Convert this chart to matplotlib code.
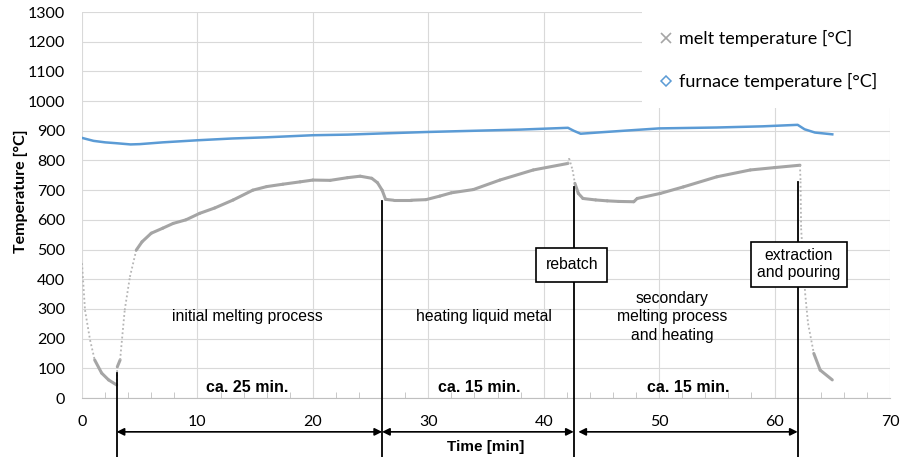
import matplotlib
matplotlib.use("Agg")
import matplotlib.pyplot as plt
from matplotlib.lines import Line2D
from matplotlib.ticker import MultipleLocator

# melt temperature readings (time in min, temperature in °C)
melt_time = [0, 0.26, 0.7, 1.1, 1.7, 2.3, 3.0, 3.06, 3.3, 3.7, 4.15, 4.7, 5.2, 6.0,
             7.0, 7.9, 9.0, 10.2, 11.5, 13.1, 14.8, 16.0, 17.4, 18.9, 20.0, 21.5,
             23.0, 24.1, 25.1, 25.6, 26.0, 26.3, 27.0, 28.5, 29.8, 31.0, 32.0, 33.9,
             36.2, 39.1, 42.1, 42.2, 42.5, 42.7, 43.0, 43.4, 44.5, 45.5, 46.5, 47.8,
             48.1, 50.1, 52.1, 55.0, 57.9, 60.0, 62.2, 62.25, 62.3, 62.65, 62.9,
             63.4, 63.95, 65.0]
melt_temp = [454, 296, 195, 128, 84, 61, 44, 105, 128, 296, 408, 498, 526, 555,
             572, 588, 600, 622, 640, 667, 700, 712, 720, 728, 734, 733,
             742, 747, 740, 725, 700, 669, 666, 666, 668, 680, 691, 702,
             734, 768, 790, 807, 768, 723, 689, 672, 667, 664, 662, 661,
             672, 689, 711, 745, 768, 776, 784, 729, 571, 352, 251,
             150, 94, 61]

# furnace temperature readings
furnace_time = [0, 1, 2, 3, 4.2, 5, 7, 10, 13, 16, 20, 23, 26, 30, 34, 38, 42.1,
                42.6, 43.2, 45, 50, 55, 59, 62, 62.6, 63.5, 65]
furnace_temp = [876, 866, 861, 858, 854, 855, 861, 868, 874, 878, 885, 887, 891,
                896, 900, 904, 910, 900, 890, 895, 908, 911, 915, 920, 905, 894, 888]

# process phase boundaries: time and the temperature where the marker line starts
event_time = [3.0, 26.0, 42.6, 62.0]
event_top = [85, 665, 710, 728]

phase_labels = ["initial melting process", "heating liquid metal",
                "secondary\nmelting process\nand heating"]
phase_label_x = [14.3, 34.8, 51.1]
durations = ["ca. 25 min.", "ca. 15 min.", "ca. 15 min."]
duration_x = [14.3, 34.4, 52.5]
arrow_spans = [(3.0, 26.0), (26.0, 42.6), (43.0, 62.0)]

melt_color = "#A5A5A5"
furnace_color = "#5B9BD5"
grid_color = "#D9D9D9"
tick_font = "Lato"
note_font = "Liberation Sans"

fig = plt.figure(figsize=(9.01, 4.57), dpi=100)
ax = fig.add_axes([82 / 901, 59 / 457, 808 / 901, 386 / 457])

# melt curve: fast changes were logged sparsely, so draw them dotted
for i in range(len(melt_time) - 1):
    t0, t1 = melt_time[i], melt_time[i + 1]
    v0, v1 = melt_temp[i], melt_temp[i + 1]
    slope = abs(v1 - v0) / (t1 - t0)
    if slope > 120:
        ax.plot([t0, t1], [v0, v1], color="#B5B5B5", lw=1.3,
                linestyle=(0, (1, 1.4)), zorder=3)
    else:
        ax.plot([t0, t1], [v0, v1], color=melt_color, lw=2.2,
                solid_capstyle="round", zorder=3)

ax.plot(furnace_time, furnace_temp, color=furnace_color, lw=1.8, zorder=3)

ax.set_xlim(0, 70)
ax.set_ylim(0, 1300)
ax.xaxis.set_major_locator(MultipleLocator(10))
ax.xaxis.set_minor_locator(MultipleLocator(2))
ax.yaxis.set_major_locator(MultipleLocator(100))
ax.grid(True, which="major", color=grid_color, lw=0.8, zorder=0)
ax.set_axisbelow(True)
for side in ["top", "right", "left"]:
    ax.spines[side].set_visible(False)
ax.spines["bottom"].set_color("#BFBFBF")
ax.tick_params(axis="both", which="major", length=0, labelsize=11.5, pad=12)
ax.tick_params(axis="x", which="minor", direction="in", length=4, color="#BFBFBF")
for lab in ax.get_xticklabels() + ax.get_yticklabels():
    lab.set_fontfamily(tick_font)

ax.set_ylabel("Temperature [°C]", fontsize=11.5, fontweight="bold",
              fontfamily=tick_font)
ax.yaxis.set_label_coords(-0.067, 0.535)
ax.set_xlabel("Time [min]", fontsize=11, fontweight="bold", fontfamily=note_font)
ax.xaxis.set_label_coords(0.5, -0.11)

# phase boundaries reach below the axis down to the duration arrows
for t, top in zip(event_time, event_top):
    ax.plot([t, t], [top, -200], color="black", lw=1.3, clip_on=False, zorder=4)

for (a, b) in arrow_spans:
    ax.annotate("", xy=(b, -114), xytext=(a, -114), annotation_clip=False,
                arrowprops=dict(arrowstyle="<|-|>", color="black", lw=1.2,
                                shrinkA=0, shrinkB=0, mutation_scale=11))

for txt, x in zip(phase_labels, phase_label_x):
    ax.text(x, 273, txt, ha="center", va="center", fontsize=11.3,
            fontfamily=note_font, linespacing=1.27, zorder=5)

for txt, x in zip(durations, duration_x):
    ax.text(x, 37, txt, ha="center", va="center", fontsize=11.5,
            fontweight="bold", fontfamily=note_font, zorder=5)

ax.text(42.43, 448, "rebatch", ha="center", va="center", fontsize=11.3,
        fontfamily=note_font, zorder=6,
        bbox=dict(boxstyle="square,pad=0.6", facecolor="white",
                  edgecolor="black", lw=1.2))
ax.text(62.1, 450, "extraction\nand pouring", ha="center", va="center",
        fontsize=11.3, fontfamily=note_font, linespacing=1.15, zorder=6,
        bbox=dict(boxstyle="square,pad=0.42", facecolor="white",
                  edgecolor="black", lw=1.2))

handles = [
    Line2D([], [], marker="x", color="#A5A5A5", linestyle="none",
           markersize=7, markeredgewidth=1.2),
    Line2D([], [], marker="D", color=furnace_color, markerfacecolor="white",
           linestyle="none", markersize=5, markeredgewidth=1.1),
]
leg = ax.legend(handles, ["melt temperature [°C]", "furnace temperature [°C]"],
                loc="upper right", bbox_to_anchor=(1.006, 1.0), frameon=True,
                facecolor="white", edgecolor="none", framealpha=1, fancybox=False,
                prop={"family": tick_font, "size": 13}, borderpad=1.0,
                handlelength=0.6, handletextpad=0.4, labelspacing=1.45,
                borderaxespad=0)
leg.set_zorder(2)

fig.savefig("out.png", dpi=100)
